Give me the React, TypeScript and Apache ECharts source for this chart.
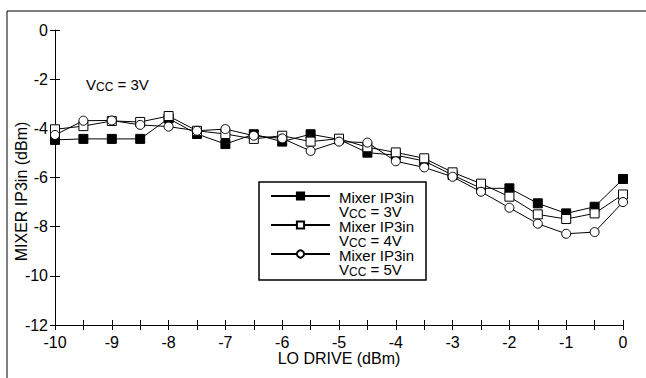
import React, { useEffect, useRef } from "react";
import * as echarts from "echarts";

const loDrive = [-10, -9.5, -9, -8.5, -8, -7.5, -7, -6.5, -6, -5.5, -5, -4.5, -4, -3.5, -3, -2.5, -2, -1.5, -1, -0.5, 0];
const vcc3 = [-4.47, -4.43, -4.43, -4.43, -3.6, -4.23, -4.64, -4.24, -4.54, -4.24, -4.45, -4.99, -5.09, -5.33, -5.9, -6.44, -6.44, -7.05, -7.46, -7.19, -6.06];
const vcc4 = [-4.04, -3.91, -3.7, -3.74, -3.5, -4.1, -4.23, -4.43, -4.3, -4.54, -4.42, -4.77, -4.98, -5.22, -5.79, -6.25, -6.78, -7.5, -7.69, -7.46, -6.69];
const vcc5 = [-4.27, -3.69, -3.68, -3.86, -3.93, -4.1, -4.03, -4.3, -4.41, -4.92, -4.54, -4.58, -5.34, -5.59, -5.97, -6.58, -7.23, -7.88, -8.29, -8.22, -7.0];
const seriesNames = ["Mixer IP3in\n{v|V}{s|CC}{v| = 3V}", "Mixer IP3in\n{v|V}{s|CC}{v| = 4V}", "Mixer IP3in\n{v|V}{s|CC}{v| = 5V}"];
const xName = "LO DRIVE (dBm)";
const yName = "MIXER IP3in (dBm)";
const annotation = "{v|V}{s|CC}{v| = 3V}";

const FONT = "Liberation Sans, Arial, sans-serif";

export default function App() {
  const ref = useRef<HTMLDivElement>(null);
  useEffect(() => {
    document.body.style.margin = "0";
    const chart = echarts.init(ref.current!, null, { renderer: "svg" });
    const richLegend = {
      v: { fontSize: 15, fontFamily: FONT, color: "#000" },
      s: { fontSize: 12, fontFamily: FONT, color: "#000", padding: [6, 0, 0, 0] },
    };
    const richNote = {
      v: { fontSize: 15, fontFamily: FONT, color: "#000" },
      s: { fontSize: 12, fontFamily: FONT, color: "#000", padding: [6, 0, 0, 0] },
    };
    const mk = (name: string, data: number[], symbol: string, fill: string) => ({
      name,
      type: "line",
      xAxisIndex: 0,
      yAxisIndex: 0,
      data: loDrive.map((x, i) => [x, data[i]]),
      symbol,
      symbolSize: 9,
      showAllSymbol: true,
      lineStyle: { color: "#000", width: 1 },
      itemStyle: { color: fill, borderColor: "#000", borderWidth: 1 },
      emphasis: { disabled: true },
    });
    const axisCommonX = { type: "value", min: -10, max: 0, interval: 0.5 };
    const axisCommonY = { type: "value", min: -12, max: 0, interval: 2 };
    const gridBox = { left: 55, right: 23, top: 30, bottom: 53, containLabel: false, outerBoundsMode: "none" };
    chart.setOption({
      animation: false,
      textStyle: { fontFamily: FONT },
      grid: [gridBox, gridBox],
      xAxis: [
        {
          ...axisCommonX,
          gridIndex: 0,
          position: "bottom",
          name: xName,
          nameLocation: "middle",
          nameGap: 25,
          nameMoveOverlap: false,
          nameTextStyle: { fontSize: 16, color: "#000", fontFamily: FONT },
          axisLine: { onZero: false, lineStyle: { color: "#000", width: 1 } },
          axisTick: { show: true, length: 5, lineStyle: { color: "#000" } },
          axisLabel: {
            fontSize: 16,
            color: "#000",
            fontFamily: FONT,
            margin: 9,
            formatter: (v: number) => (Number.isInteger(v) ? String(v) : ""),
          },
          splitLine: { show: false },
        },
        {
          ...axisCommonX,
          gridIndex: 1,
          position: "bottom",
          axisLine: { show: false, onZero: false },
          axisTick: { show: true, inside: true, length: 5, lineStyle: { color: "#000" } },
          axisLabel: { show: false },
          splitLine: { show: false },
        },
      ],
      yAxis: [
        {
          ...axisCommonY,
          gridIndex: 0,
          position: "left",
          name: yName,
          nameLocation: "middle",
          nameGap: 26,
          nameMoveOverlap: false,
          nameTextStyle: { fontSize: 16, color: "#000", fontFamily: FONT, padding: [0, 28, 0, 0] },
          axisLine: { show: true, onZero: false, lineStyle: { color: "#000", width: 1 } },
          axisTick: { show: true, length: 5, lineStyle: { color: "#000" } },
          axisLabel: { fontSize: 16, color: "#000", fontFamily: FONT, margin: 7 },
          splitLine: { show: false },
        },
        {
          ...axisCommonY,
          gridIndex: 1,
          position: "left",
          axisLine: { show: false, onZero: false },
          axisTick: { show: true, inside: true, length: 5, lineStyle: { color: "#000" } },
          axisLabel: { show: false },
          splitLine: { show: false },
        },
      ],
      legend: {
        orient: "vertical",
        left: 259,
        top: 174,
        itemWidth: 59,
        itemHeight: 9,
        itemGap: -17,
        padding: [0, 0, 0, 11],
        selectedMode: false,
        data: seriesNames,
        formatter: (n: string) => n,
        textStyle: { fontSize: 15, color: "#000", fontFamily: FONT, lineHeight: 14, padding: [16, 0, 0, 4], rich: richLegend },
      },
      graphic: [
        {
          type: "rect",
          shape: { x: 7, y: 11, width: 700, height: 400 },
          style: { fill: "none", stroke: "#000", lineWidth: 1 },
          silent: true,
        },
        {
          type: "rect",
          shape: { x: 259, y: 182, width: 167, height: 98 },
          style: { fill: "none", stroke: "#000", lineWidth: 1.5 },
          silent: true,
          z: 10,
        },
        {
          type: "text",
          x: 86,
          y: 84,
          style: { text: annotation, rich: richNote, verticalAlign: "middle", fill: "#000" },
          silent: true,
        },
      ],
      series: [
        mk(seriesNames[0], vcc3, "rect", "#000"),
        mk(seriesNames[1], vcc4, "rect", "#fff"),
        mk(seriesNames[2], vcc5, "circle", "#fff"),
      ],
    });
    return () => chart.dispose();
  }, []);
  return <div ref={ref} style={{ width: 646, height: 378 }} />;
}
